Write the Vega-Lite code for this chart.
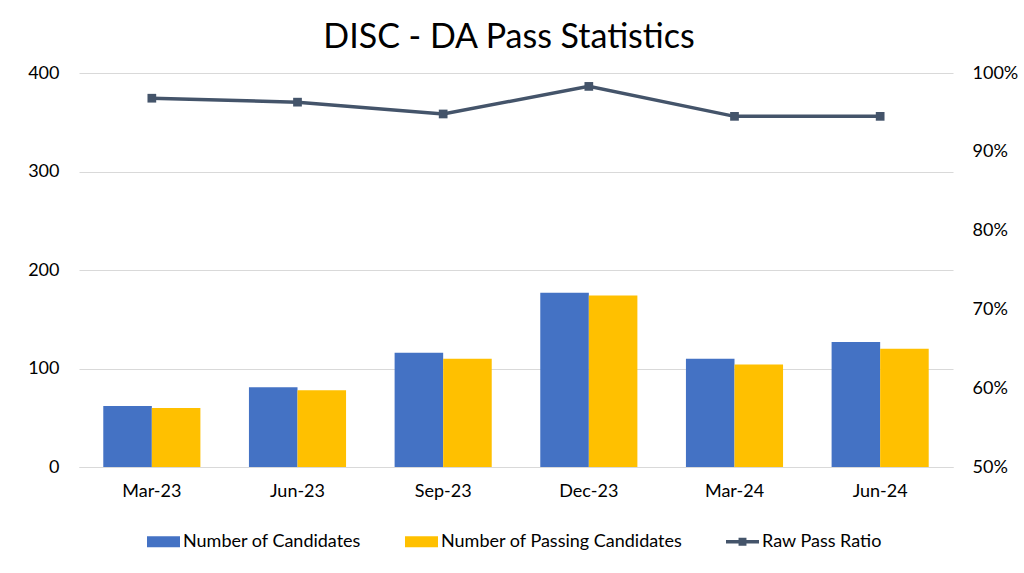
{
  "$schema": "https://vega.github.io/schema/vega-lite/v6.json",
  "width": 874,
  "height": 394,
  "autosize": {"type": "none"},
  "padding": {"left": 79, "top": 73, "right": 71, "bottom": 106},
  "background": "white",
  "title": {
    "text": "DISC - DA Pass Statistics",
    "font": "Lato",
    "fontSize": 34,
    "fontWeight": "normal",
    "color": "#000000",
    "anchor": "middle",
    "offset": 9,
    "dx": -7
  },
  "config": {
    "font": "Lato",
    "view": {"stroke": null},
    "axis": {
      "labelFont": "Lato",
      "labelFontSize": 18,
      "labelColor": "#000000",
      "ticks": false,
      "domain": false,
      "grid": false,
      "title": null
    },
    "legend": {
      "labelFont": "Lato",
      "labelFontSize": 18,
      "labelColor": "#000000",
      "labelLimit": 0
    }
  },
  "datasets": {
    "bars": [
      {"month": "Mar-23", "series": "Number of Candidates", "value": 62},
      {"month": "Mar-23", "series": "Number of Passing Candidates", "value": 60},
      {"month": "Jun-23", "series": "Number of Candidates", "value": 81},
      {"month": "Jun-23", "series": "Number of Passing Candidates", "value": 78},
      {"month": "Sep-23", "series": "Number of Candidates", "value": 116},
      {"month": "Sep-23", "series": "Number of Passing Candidates", "value": 110},
      {"month": "Dec-23", "series": "Number of Candidates", "value": 177},
      {"month": "Dec-23", "series": "Number of Passing Candidates", "value": 174},
      {"month": "Mar-24", "series": "Number of Candidates", "value": 110},
      {"month": "Mar-24", "series": "Number of Passing Candidates", "value": 104},
      {"month": "Jun-24", "series": "Number of Candidates", "value": 127},
      {"month": "Jun-24", "series": "Number of Passing Candidates", "value": 120}
    ],
    "ratio": [
      {"month": "Mar-23", "ratio": 0.968},
      {"month": "Jun-23", "ratio": 0.963},
      {"month": "Sep-23", "ratio": 0.948},
      {"month": "Dec-23", "ratio": 0.983},
      {"month": "Mar-24", "ratio": 0.945},
      {"month": "Jun-24", "ratio": 0.945}
    ]
  },
  "encoding": {
    "x": {
      "field": "month",
      "type": "nominal",
      "sort": ["Mar-23", "Jun-23", "Sep-23", "Dec-23", "Mar-24", "Jun-24"],
      "scale": {"paddingInner": 0.3333, "paddingOuter": 0.1667},
      "axis": {
        "labelAngle": 0,
        "labelPadding": 15,
        "domain": true,
        "domainColor": "#D9D9D9",
        "domainWidth": 1
      }
    }
  },
  "layer": [
    {
      "data": {"name": "bars"},
      "mark": {"type": "bar"},
      "encoding": {
        "xOffset": {
          "field": "series",
          "type": "nominal",
          "sort": ["Number of Candidates", "Number of Passing Candidates"],
          "scale": {"paddingInner": 0, "paddingOuter": 0}
        },
        "y": {
          "field": "value",
          "type": "quantitative",
          "scale": {"domain": [0, 400]},
          "axis": {
            "values": [0, 100, 200, 300, 400],
            "grid": true,
            "gridColor": "#D9D9D9",
            "gridWidth": 1,
            "labelPadding": 20,
            "orient": "left"
          }
        },
        "color": {
          "field": "series",
          "type": "nominal",
          "scale": {
            "domain": ["Number of Candidates", "Number of Passing Candidates", "Raw Pass Ratio"],
            "range": ["#4472C4", "#FFC000", "#44546A"]
          },
          "legend": {
            "orient": "none",
            "legendX": 68,
            "legendY": 452,
            "direction": "horizontal",
            "title": null,
            "columnPadding": 43,
            "labelOffset": 3,
            "symbolSize": 1089,
            "symbolStrokeWidth": 0,
            "encode": {
              "symbols": {
                "update": {
                  "shape": {"signal": "datum.value === 'Raw Pass Ratio' ? 'M-1,-0.1H-0.24V-0.24H0.24V-0.1H1V0.1H0.24V0.24H-0.24V0.1H-1Z' : 'M-1,-0.33H1V0.33H-1Z'"},
                  "fill": {"scale": "color", "field": "value"},
                  "strokeWidth": {"value": 0},
                  "opacity": {"value": 1}
                }
              }
            }
          }
        }
      }
    },
    {
      "data": {"name": "ratio"},
      "mark": {
        "type": "line",
        "strokeWidth": 3.5,
        "point": {"shape": "square", "size": 76, "filled": true, "color": "#44546A", "opacity": 1}
      },
      "encoding": {
        "y": {
          "field": "ratio",
          "type": "quantitative",
          "scale": {"domain": [0.5, 1.0]},
          "axis": {
            "orient": "right",
            "values": [0.5, 0.6, 0.7, 0.8, 0.9, 1.0],
            "format": ".0%",
            "labelPadding": 19,
            "grid": false
          }
        },
        "color": {"datum": "Raw Pass Ratio", "type": "nominal"}
      }
    }
  ],
  "resolve": {"scale": {"y": "independent"}}
}
